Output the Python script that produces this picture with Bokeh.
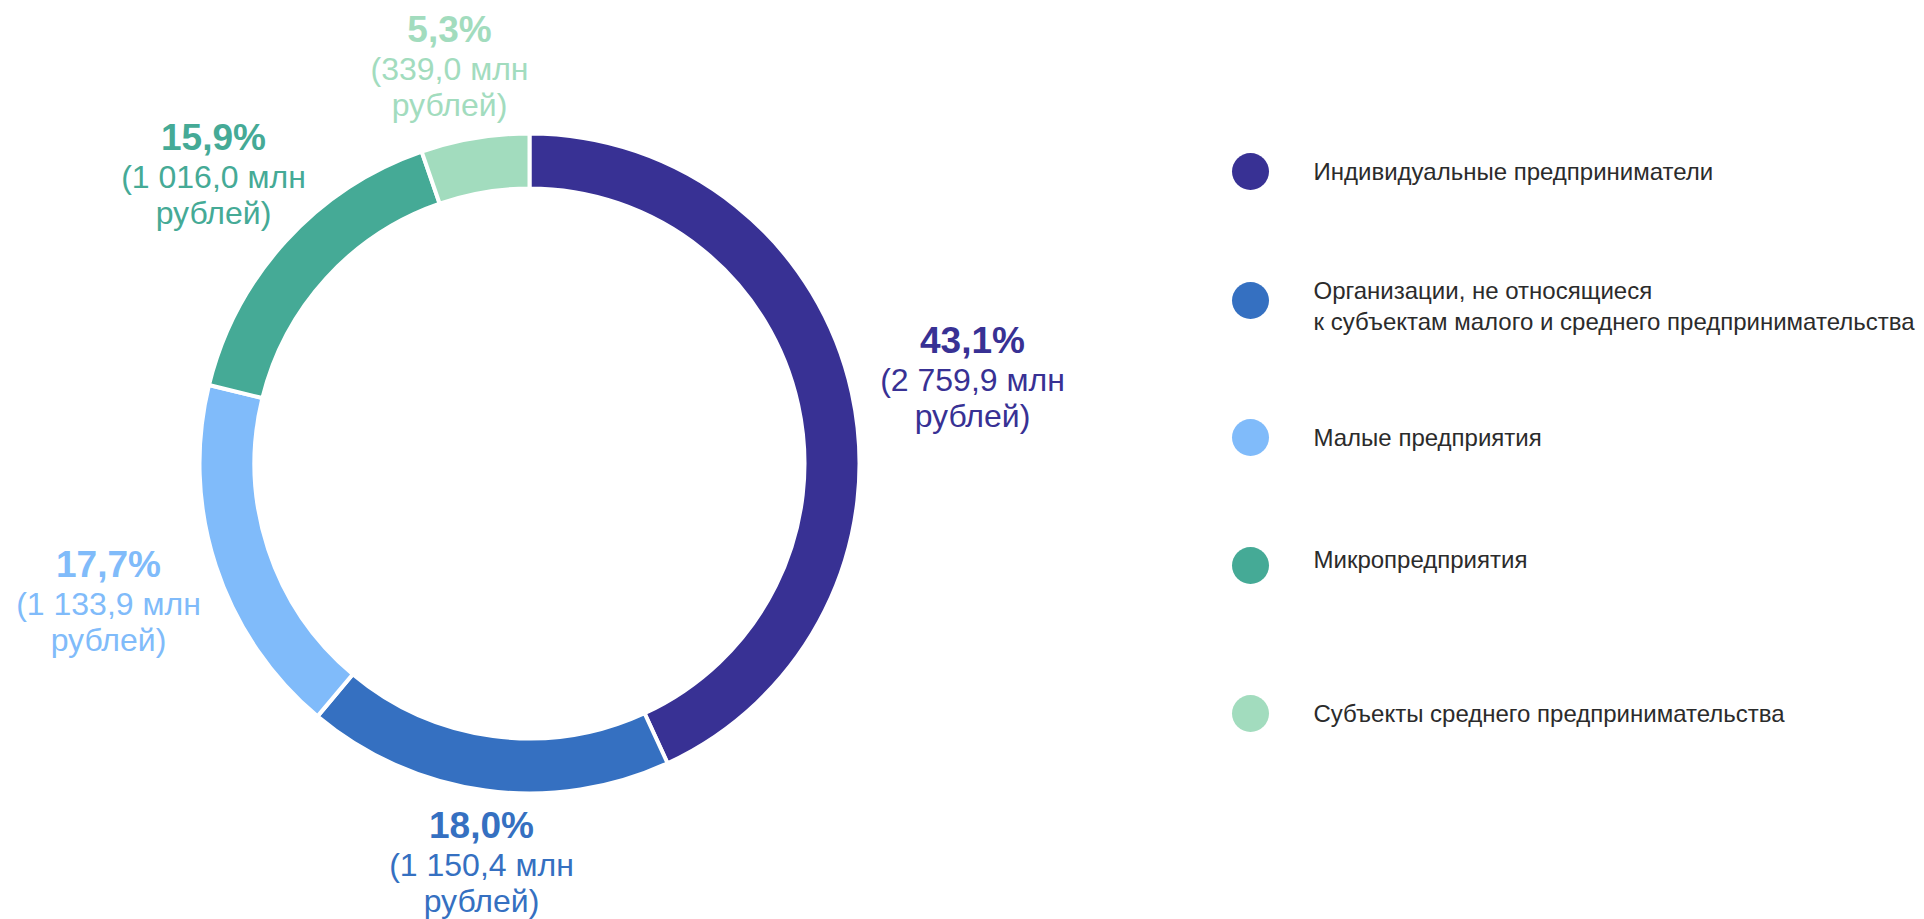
import math
from bokeh.plotting import figure
from bokeh.models import Range1d
from bokeh.core.properties import value
from bokeh.embed import file_html
from bokeh.resources import INLINE

# ---- data ----
categories = [
    "Индивидуальные предприниматели",
    "Организации, не относящиеся\nк субъектам малого и среднего предпринимательства",
    "Малые предприятия",
    "Микропредприятия",
    "Субъекты среднего предпринимательства",
]
amounts_mln = [2759.9, 1150.4, 1133.9, 1016.0, 339.0]
percent_labels = ["43,1%", "18,0%", "17,7%", "15,9%", "5,3%"]
amount_labels = ["(2 759,9 млн", "(1 150,4 млн", "(1 133,9 млн", "(1 016,0 млн", "(339,0 млн"]
unit_label = "рублей)"
colors = ["#383194", "#3570C1", "#80BBFA", "#45AA96", "#A2DCBE"]

# ---- layout (screen px) ----
W, H = 1924, 919
def Y(y):
    return H - y

label_pos = [(972, 340), (481, 825), (108, 564), (213, 137), (449, 29)]
legend_rows = [171, 300, 437, 565, 713]
legend_text_y = [[171], [290, 321], [437], [559], [713]]

p = figure(width=W, height=H, output_backend="svg", toolbar_location=None,
           x_range=Range1d(0, W), y_range=Range1d(0, H),
           min_border=0, outline_line_color=None)
p.axis.visible = False
p.grid.visible = False
p.background_fill_color = "white"

cx, cy = 529, Y(463)
total = sum(amounts_mln)
starts, ends = [], []
cum = 0.0
for v in amounts_mln:
    starts.append(math.pi / 2 - cum / total * 2 * math.pi)
    cum += v
    ends.append(math.pi / 2 - cum / total * 2 * math.pi)

p.annular_wedge(x=[cx] * 5, y=[cy] * 5, inner_radius=275, outer_radius=330,
                start_angle=starts, end_angle=ends, direction="clock",
                fill_color=colors, line_color="white", line_width=4)

font = value("Liberation Sans")
for i in range(5):
    lx, ly = label_pos[i]
    p.text(x=[lx], y=[Y(ly)], text=[percent_labels[i]], text_color=colors[i],
           text_font=font, text_font_size="37px", text_font_style="bold",
           text_align="center", text_baseline="alphabetic")
    p.text(x=[lx], y=[Y(ly + 39)], text=[amount_labels[i]], text_color=colors[i],
           text_font=font, text_font_size="32px",
           text_align="center", text_baseline="alphabetic")
    p.text(x=[lx], y=[Y(ly + 75)], text=[unit_label], text_color=colors[i],
           text_font=font, text_font_size="32px",
           text_align="center", text_baseline="alphabetic")

p.scatter(x=[1250] * 5, y=[Y(r) for r in legend_rows], size=37, marker="circle",
          fill_color=colors, line_color=None)

for i, cat in enumerate(categories):
    for line, ty in zip(cat.split("\n"), legend_text_y[i]):
        p.text(x=[1313], y=[Y(ty)], text=[line], text_color="#2b2b2b",
               text_font=font, text_font_size="24px",
               text_align="left", text_baseline="alphabetic")

open("out.html", "w").write(file_html(p, INLINE))
